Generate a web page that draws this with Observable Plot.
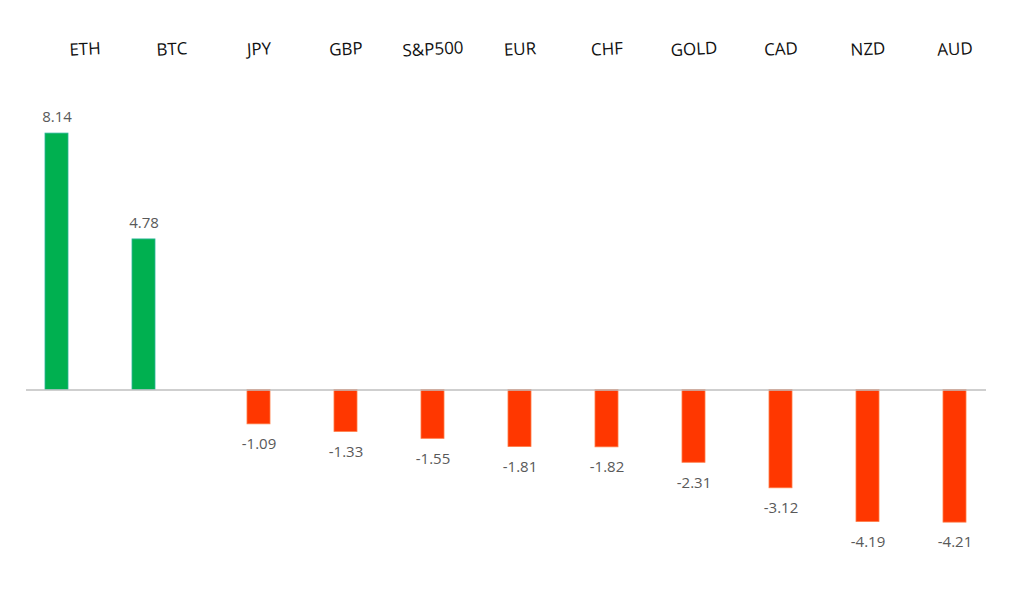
<!DOCTYPE html>
<html>
<head>
<meta charset="utf-8">
<script src="https://cdn.jsdelivr.net/npm/d3@7"></script>
<script src="https://cdn.jsdelivr.net/npm/@observablehq/plot@0.6"></script>
<style>
  html, body { margin: 0; padding: 0; background: #ffffff; }
  #chart { width: 1024px; height: 592px; overflow: hidden; }
</style>
</head>
<body>
<div id="chart"></div>
<script>
const categories = ["ETH", "BTC", "JPY", "GBP", "S&P500", "EUR", "CHF", "GOLD", "CAD", "NZD", "AUD"];
const values = [8.14, 4.78, -1.09, -1.33, -1.55, -1.81, -1.82, -2.31, -3.12, -4.19, -4.21];

const data = categories.map((c, i) => ({ name: c, value: values[i] }));
const pos = data.filter(d => d.value >= 0);
const neg = data.filter(d => d.value < 0);
const fmt = v => v.toFixed(2); // plain hyphen-minus as in the reference
const GREEN = "#00b050";
const RED = "#ff3700";
const SHIFT = -28; // crypto bars sit left of their header labels in the reference

const chart = Plot.plot({
  width: 1024,
  height: 592,
  marginTop: 0,
  marginLeft: 26,
  marginRight: 38,
  marginBottom: 0,
  style: { fontFamily: "'Open Sans', sans-serif", background: "#ffffff" },
  x: { type: "band", domain: categories, range: [40, 999], paddingInner: 0.737, paddingOuter: 0.3685, axis: null },
  y: { domain: [-6, 10], range: [578.5, 74.5], axis: null },
  marks: [
    Plot.barY(pos, { x: "name", y: "value", fill: GREEN, stroke: "#2bb59a", strokeWidth: 0.8, dx: SHIFT }),
    Plot.barY(neg, { x: "name", y: "value", fill: RED, stroke: "#ff7a45", strokeWidth: 0.8 }),
    Plot.ruleY([0], { stroke: "#bfbfbf", strokeWidth: 1.5 }),
    Plot.text(pos, { x: "name", y: "value", text: d => fmt(d.value), dy: -16, dx: SHIFT, fontSize: 15, fill: "#595959", lineAnchor: "middle" }),
    Plot.text(neg, { x: "name", y: "value", text: d => fmt(d.value), dy: 20, fontSize: 15, fill: "#595959", lineAnchor: "middle" }),
    Plot.text(categories, { x: d => d, frameAnchor: "top", dy: 49, text: d => d, fontSize: 17, fill: "#111111", rotate: -3, lineAnchor: "middle" })
  ]
});
document.getElementById("chart").appendChild(chart);
</script>
</body>
</html>
